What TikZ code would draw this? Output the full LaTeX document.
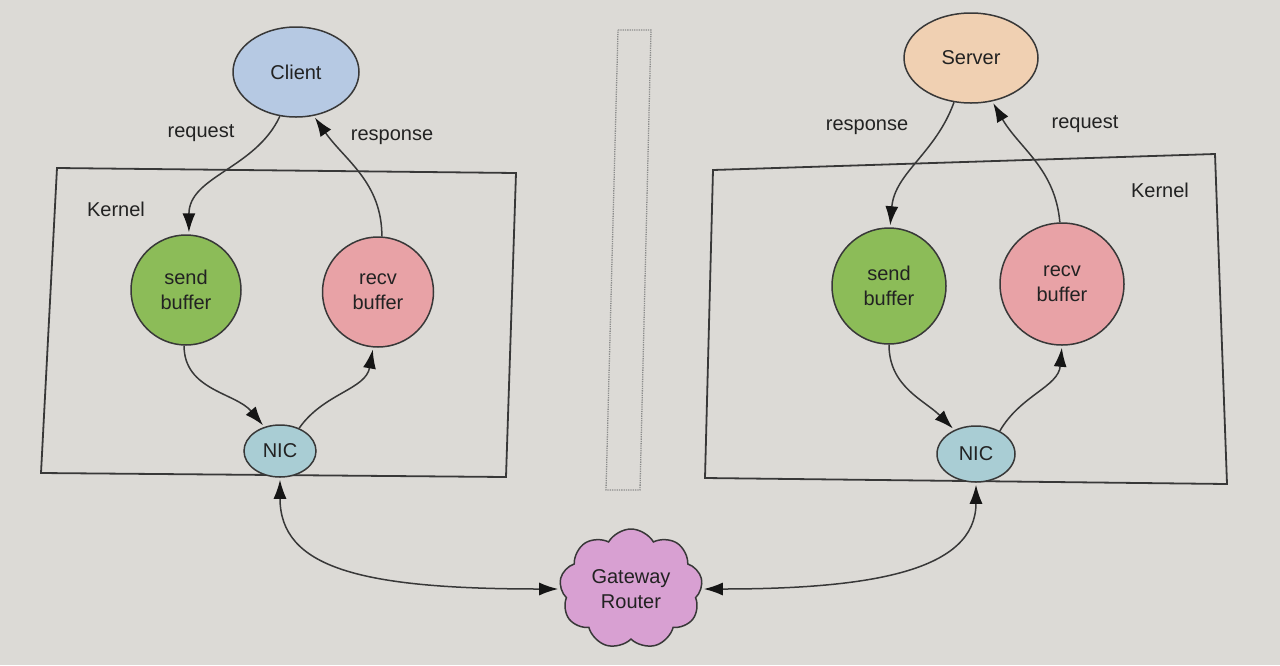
\documentclass[tikz,border=0pt]{standalone}
\usepackage{fontspec}
\setmainfont{Liberation Sans}
\usetikzlibrary{shapes.geometric,shapes.symbols,arrows.meta}
\definecolor{bg}{HTML}{DCDAD6}
\definecolor{linec}{HTML}{383838}
\definecolor{tipc}{HTML}{151515}
\definecolor{txt}{HTML}{222222}
\definecolor{clientc}{HTML}{B6C9E3}
\definecolor{serverc}{HTML}{F0D0B2}
\definecolor{sendc}{HTML}{8CBC58}
\definecolor{recvc}{HTML}{E8A2A6}
\definecolor{nicc}{HTML}{A9CDD4}
\definecolor{gwc}{HTML}{D8A0D2}
\definecolor{dotc}{HTML}{8C8C8C}
\begin{document}
\begin{tikzpicture}[x=1pt,y=-1pt,
  nd/.style={draw=linec, line width=1.5pt, ellipse, inner sep=0pt, align=center,
    text=txt, font=\fontsize{20}{25}\selectfont},
  lbl/.style={text=txt, font=\fontsize{20}{24}\selectfont, inner sep=0pt},
  arr/.style={draw=linec, line width=1.5pt, shorten >=2pt,
    -{Latex[length=19pt,width=13pt,color=tipc]}},
  darr/.style={draw=linec, line width=1.5pt, shorten >=2pt, shorten <=2pt,
    {Latex[length=19pt,width=13pt,color=tipc]}-{Latex[length=19pt,width=13pt,color=tipc]}},
  kbox/.style={draw=linec, line width=1.8pt},
  sep/.style={draw=dotc, line width=1.3pt, densely dotted}]
\useasboundingbox (0,0) rectangle (1280,665);
\fill[bg] (0,0) rectangle (1280,665);

% kernel boxes and separator
\draw[kbox] (57,168) -- (516,173) -- (506,477) -- (41,473) -- cycle;
\draw[kbox] (713,170) -- (1215,154) -- (1227,484) -- (705,478) -- cycle;
\draw[sep] (618,30) -- (651,30) -- (640,490) -- (606,490) -- cycle;

% labels
\node[lbl] (reqL) at (201,133) {request};
\node[lbl] (resL) at (392,137) {response};
\node[lbl] (kerL) at (116,209) {Kernel};
\node[lbl] (resR) at (867,127) {response};
\node[lbl] (reqR) at (1085,124) {request};
\node[lbl] (kerR) at (1160,190) {Kernel};

% left nodes
\node[nd, fill=clientc, minimum width=126pt, minimum height=90pt] (client) at (296,72) {Client};
\node[nd, fill=sendc, minimum width=110pt, minimum height=110pt] (sendL) at (186,290) {send\\buffer};
\node[nd, fill=recvc, minimum width=111pt, minimum height=110pt] (recvL) at (378,292) {recv\\buffer};
\node[nd, fill=nicc, minimum width=72pt, minimum height=52pt] (nicL) at (280,451) {NIC};

% right nodes
\node[nd, fill=serverc, minimum width=134pt, minimum height=90pt] (server) at (971,58) {Server};
\node[nd, fill=sendc, minimum width=114pt, minimum height=116pt] (sendR) at (889,286) {send\\buffer};
\node[nd, fill=recvc, minimum width=124pt, minimum height=122pt] (recvR) at (1062,284) {recv\\buffer};
\node[nd, fill=nicc, minimum width=78pt, minimum height=56pt] (nicR) at (976,454) {NIC};

% gateway
\node[cloud, draw=linec, line width=1.5pt, fill=gwc, cloud puffs=9, cloud puff arc=120,
  aspect=1.2, minimum width=143pt, minimum height=120pt, inner sep=0pt, align=center,
  text=txt, font=\fontsize{20}{25}\selectfont] (gw) at (631,589) {Gateway\\Router};

% left connectors
\draw[arr] (client.250) to[out=245,in=90] (sendL.87);
\draw[arr] (recvL.86) to[out=90,in=-55] (client.292);
\draw[arr] (sendL.268) to[out=-90,in=130] (nicL.123);
\draw[arr] (nicL.50) to[out=55,in=-100] (recvL.265);
\draw[darr] (nicL.south) .. controls +(0,90) and +(-200,0) .. (gw.west);

% right connectors
\draw[arr] (server.249) to[out=250,in=85] (sendR.89);
\draw[arr] (recvR.92) to[out=95,in=-60] (server.296);
\draw[arr] (sendR.270) to[out=-90,in=135] (nicR.132);
\draw[arr] (nicR.44) to[out=60,in=-95] (recvR.270);
\draw[darr] (nicR.south) .. controls +(0,88) and +(170,0) .. (gw.east);
\end{tikzpicture}
\end{document}
